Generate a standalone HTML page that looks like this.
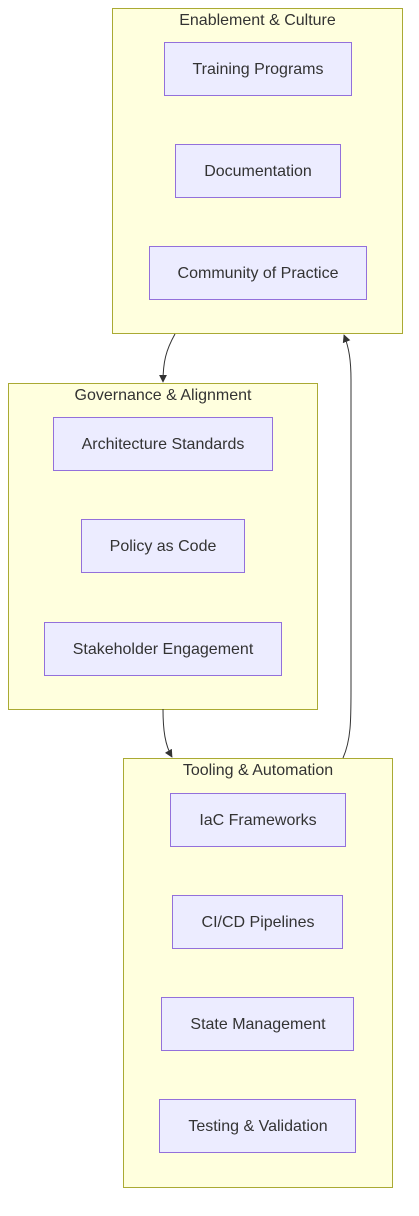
<!DOCTYPE html>
<html><head><meta charset="utf-8"><style>
html,body{margin:0;padding:0;background:#fff;}
svg{display:block;}
text{font-family:"Liberation Sans",Arial,sans-serif;font-size:16px;fill:#333;}
.c{fill:#ffffde;stroke:#aaaa33;stroke-width:1;}
.n{fill:#ececff;stroke:#9370db;stroke-width:1;}
.e{fill:none;stroke:#333;stroke-width:1;}
</style></head><body>
<svg width="419" height="1216" viewBox="0 0 419 1216" xmlns="http://www.w3.org/2000/svg">
<defs><marker id="a" viewBox="0 0 10 10" refX="9" refY="5" markerWidth="8" markerHeight="8" orient="auto"><path d="M0,0L10,5L0,10z" fill="#333"/></marker></defs>
<rect class="c" x="112.5" y="8.5" width="290" height="325"/>
<text x="257.5" y="25" text-anchor="middle">Enablement &amp; Culture</text>
<rect class="n" x="164.5" y="42.5" width="187" height="53"/><text x="258" y="74" text-anchor="middle">Training Programs</text>
<rect class="n" x="175.5" y="144.5" width="165" height="53"/><text x="258" y="176" text-anchor="middle">Documentation</text>
<rect class="n" x="149.5" y="246.5" width="217" height="53"/><text x="258" y="278" text-anchor="middle">Community of Practice</text>

<rect class="c" x="8.5" y="383.5" width="309" height="326"/>
<text x="163" y="400" text-anchor="middle">Governance &amp; Alignment</text>
<rect class="n" x="53.5" y="417.5" width="219" height="53"/><text x="163" y="449" text-anchor="middle">Architecture Standards</text>
<rect class="n" x="81.5" y="519.5" width="163" height="53"/><text x="163" y="551" text-anchor="middle">Policy as Code</text>
<rect class="n" x="44.5" y="622.5" width="237" height="53"/><text x="163" y="654" text-anchor="middle">Stakeholder Engagement</text>

<rect class="c" x="123.5" y="758.5" width="269" height="429"/>
<text x="258" y="775" text-anchor="middle">Tooling &amp; Automation</text>
<rect class="n" x="170.5" y="793.5" width="175" height="53"/><text x="258" y="825" text-anchor="middle">IaC Frameworks</text>
<rect class="n" x="172.5" y="895.5" width="170" height="53"/><text x="258" y="927" text-anchor="middle">CI/CD Pipelines</text>
<rect class="n" x="161.5" y="997.5" width="192" height="53"/><text x="258" y="1029" text-anchor="middle">State Management</text>
<rect class="n" x="159.5" y="1099.5" width="196" height="53"/><text x="258" y="1131" text-anchor="middle">Testing &amp; Validation</text>

<path class="e" d="M175,334 C166,350 163,362 163,382" marker-end="url(#a)"/>
<path class="e" d="M163,709 C163,730 165,745 172,757" marker-end="url(#a)"/>
<path class="e" d="M343,758 C351,740 351,720 351,690 L351,380 C351,360 349,348 344,335" marker-end="url(#a)"/>
</svg>
</body></html>
